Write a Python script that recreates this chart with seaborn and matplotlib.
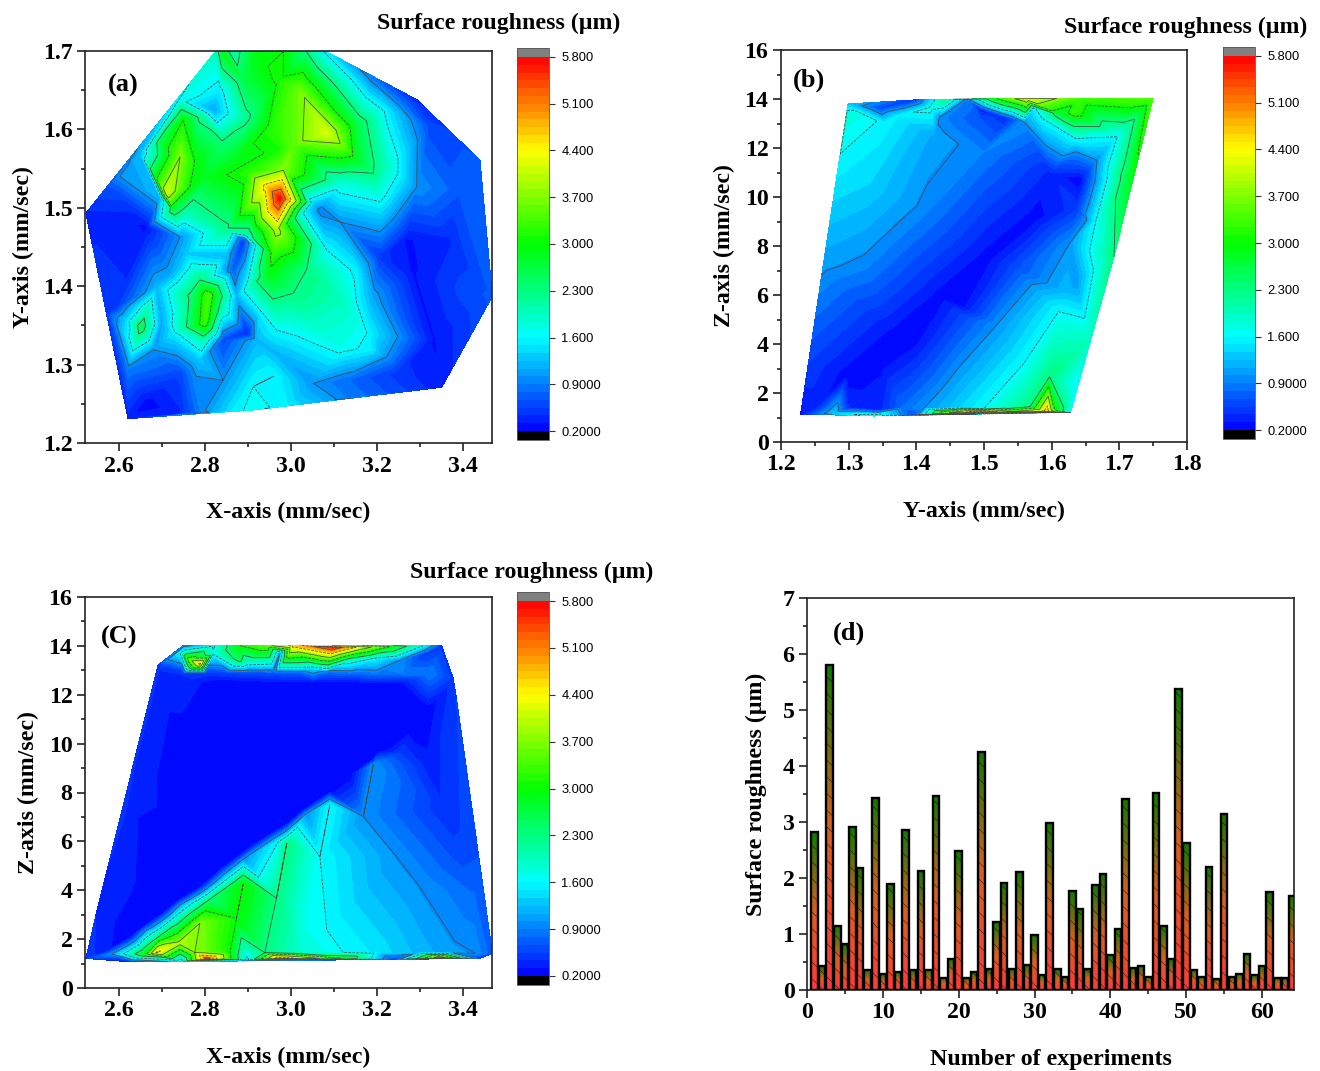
import numpy as np
import seaborn as sns
import matplotlib.pyplot as plt
import matplotlib.tri as mtri
from matplotlib.colors import LinearSegmentedColormap
from matplotlib.ticker import MultipleLocator, FormatStrFormatter

# panel (a): X speed, Y speed, roughness
a_x = [2.823, 2.842, 2.862, 2.920, 2.982, 3.036, 3.083, 3.191, 3.292, 3.439, 3.468, 3.350, 3.129, 2.990, 2.912, 2.866, 2.742, 2.621, 2.571, 2.523, 2.579, 2.649, 2.742,
       2.819, 2.835, 2.788, 2.842, 2.897, 2.889, 2.749, 2.711, 2.742, 2.695, 2.602, 2.776, 2.800, 2.866, 2.974, 2.959, 3.021, 3.083, 3.005, 3.114, 3.152, 3.183, 3.222, 3.152, 3.191, 3.226, 3.257, 3.292, 3.207, 3.114, 3.052,
       2.974, 2.982, 2.974, 2.943, 2.966, 2.997, 3.013, 3.028, 2.900, 2.959, 2.951, 3.036, 3.005, 2.959, 2.920, 2.897, 2.850, 2.765, 2.726, 2.757, 2.742, 2.695, 2.850, 2.889, 2.866, 2.897, 2.664,
       2.807, 2.800, 2.773, 2.788, 2.757, 2.796, 2.838, 2.773, 2.718, 2.726, 2.788, 2.873, 2.757, 2.842, 2.897,
       2.652, 2.668, 2.637, 2.618, 2.687, 2.699, 2.621, 2.680, 2.594,
       2.742, 2.780, 2.664, 2.788, 2.842, 2.920, 2.966, 2.928, 2.966, 2.990, 3.121, 2.912, 2.959, 3.052, 3.129, 3.176, 3.187, 3.222,
       3.083, 3.152, 3.191, 3.114, 3.067, 3.207, 3.284, 3.331, 3.245, 3.362, 3.269, 3.400, 3.323, 3.393, 3.052, 3.129]
a_y = [1.699, 1.699, 1.699, 1.699, 1.699, 1.699, 1.699, 1.667, 1.638, 1.561, 1.387, 1.271, 1.257, 1.248, 1.242, 1.241, 1.237, 1.231, 1.365, 1.493, 1.531, 1.569, 1.637,
       1.625, 1.650, 1.616, 1.582, 1.614, 1.663, 1.612, 1.518, 1.565, 1.586, 1.540, 1.559, 1.540, 1.561, 1.663, 1.603, 1.650, 1.595, 1.582, 1.582, 1.608, 1.612, 1.625, 1.561, 1.544, 1.552, 1.631, 1.527, 1.514, 1.531, 1.506,
       1.574, 1.548, 1.512, 1.527, 1.472, 1.510, 1.497, 1.493, 1.544, 1.442, 1.416, 1.421, 1.391, 1.378, 1.406, 1.467, 1.472, 1.527, 1.497, 1.493, 1.463, 1.514, 1.438, 1.459, 1.421, 1.408, 1.476,
       1.387, 1.353, 1.387, 1.408, 1.348, 1.331, 1.374, 1.425, 1.416, 1.340, 1.306, 1.387, 1.442, 1.331, 1.340,
       1.348, 1.374, 1.327, 1.357, 1.399, 1.353, 1.295, 1.319, 1.374,
       1.289, 1.285, 1.251, 1.242, 1.280, 1.331, 1.314, 1.365, 1.344, 1.348, 1.321, 1.272, 1.285, 1.353, 1.374, 1.340, 1.319, 1.310,
       1.446, 1.421, 1.387, 1.482, 1.497, 1.438, 1.416, 1.331, 1.289, 1.459, 1.459, 1.395, 1.603, 1.523, 1.276, 1.280]
a_z = [1.9, 2.9, 2.0, 2.9, 3.0, 2.3, 1.5, 0.8, 0.4, 0.7, 0.7, 0.35, 0.9, 1.5, 1.7, 1.5, 0.4, 0.35, 0.5, 0.4, 0.7, 1.2, 1.7,
       1.1, 1.5, 2.2, 2.4, 2.2, 2.6, 3.0, 4.1, 3.7, 2.5, 1.0, 3.0, 2.8, 2.8, 3.1, 3.2, 3.6, 4.2, 3.5, 3.7, 2.6, 2.2, 1.5, 2.8, 2.3, 1.9, 0.9, 1.0, 1.7, 1.8, 1.3,
       3.1, 3.7, 5.8, 4.6, 3.9, 4.6, 2.6, 1.6, 3.2, 3.2, 2.9, 2.3, 2.3, 2.2, 2.3, 2.0, 2.2, 3.0, 2.6, 2.0, 1.0, 1.2, 1.2, 0.5, 0.7, 1.5, 0.3,
       3.4, 3.3, 2.5, 2.3, 2.3, 2.0, 2.1, 1.7, 1.1, 1.5, 1.3, 1.2, 1.3, 0.6, 0.4,
       2.6, 1.9, 1.9, 1.4, 1.2, 1.1, 0.9, 1.0, 0.5,
       0.6, 1.0, 0.25, 0.9, 1.0, 1.2, 1.2, 1.5, 1.6, 1.7, 1.7, 1.6, 1.6, 1.9, 1.9, 1.6, 1.5, 1.0,
       1.6, 1.5, 1.1, 1.0, 0.9, 0.5, 0.3, 0.3, 0.5, 0.4, 0.3, 0.6, 0.6, 0.7, 1.0, 0.8]

# panel (b): Y speed, Z speed, roughness
b_x = [1.229, 1.278, 1.337, 1.396, 1.445, 1.495, 1.544, 1.593, 1.628, 1.692, 1.716, 1.750, 1.299, 1.297,
       1.312, 1.352, 1.500, 1.598, 1.642, 1.534, 1.435, 1.640, 1.559, 1.636, 1.586, 1.635, 1.613, 1.633, 1.633, 1.721, 1.726, 1.697, 1.667, 1.636, 1.633, 1.637,
       1.625, 1.610, 1.597, 1.568, 1.500, 1.411, 1.603, 1.347,
       1.396, 1.445, 1.475, 1.519, 1.564, 1.642, 1.347, 1.421, 1.495, 1.573,
       1.298, 1.367, 1.435, 1.504, 1.573, 1.241, 1.262, 1.283, 1.381, 1.322, 1.411, 1.426, 1.332,
       1.519, 1.470, 1.544, 1.559, 1.665, 1.652, 1.623, 1.656, 1.371, 1.495,
       1.250, 1.300, 1.380, 1.455, 1.534, 1.620,
       1.350, 1.400, 1.470]
b_y = [1.14, 1.17, 1.06, 1.10, 1.20, 1.24, 1.24, 1.24, 1.21, 7.56, 10.69, 14.03, 13.80, 13.35,
       13.41, 13.01, 11.85, 10.97, 10.69, 13.21, 13.25, 11.24, 13.07, 11.85, 13.21, 12.39, 13.35, 12.94, 13.48, 13.89, 13.28, 12.46, 11.51, 6.54, 2.26, 9.61,
       8.04, 5.32, 2.67, 1.44, 1.37, 1.37, 1.33, 1.31,
       13.96, 13.99, 13.99, 14.01, 14.01, 14.03, 13.62, 13.62, 13.55, 13.62,
       2.73, 4.33, 5.92, 7.51, 9.10, 3.29, 7.15, 10.96, 8.79, 7.25, 9.54, 12.46, 10.42,
       4.78, 5.12, 7.16, 3.21, 8.99, 9.06, 6.07, 4.16, 13.31, 13.25,
       1.40, 1.40, 1.40, 1.40, 1.40, 1.40,
       3.00, 4.00, 5.50]
b_z = [0.3, 1.3, 1.9, 0.6, 3.6, 5.0, 3.8, 4.8, 1.6, 2.3, 2.8, 3.4, 1.3, 1.8,
       1.75, 1.55, 0.9, 0.4, 0.22, 0.45, 0.95, 0.6, 1.0, 1.0, 1.6, 1.6, 2.6, 2.4, 3.3, 3.3, 2.4, 1.6, 1.0, 1.0, 1.6, 0.5,
       1.0, 1.6, 2.3, 2.3, 1.6, 1.0, 3.1, 0.4,
       0.5, 2.2, 0.9, 3.0, 4.2, 3.3, 0.6, 1.7, 0.35, 1.5,
       0.25, 0.25, 0.25, 0.25, 0.25, 0.55, 1.04, 1.5, 0.95, 0.95, 0.95, 1.1, 1.35,
       1.0, 0.6, 0.6, 1.6, 1.6, 1.0, 1.25, 1.95, 1.5, 0.65,
       0.35, 0.42, 0.8, 1.3, 1.95, 2.2,
       0.3, 0.3, 0.3]

# panel (C): X speed, Z speed, roughness
c_x = [2.523, 2.618, 2.742, 2.804, 2.897, 2.974, 3.129, 3.238, 3.346, 3.439, 3.468, 3.385, 3.377, 3.350, 3.307, 3.230, 3.168, 3.098, 3.005, 2.943, 2.881, 2.819, 2.749, 2.691,
       2.742, 2.819, 2.974, 3.191, 3.253, 3.315, 2.765, 2.881, 2.990, 3.129, 2.788, 2.897, 3.052, 3.323, 2.695, 2.842, 3.315, 3.346, 2.567, 2.610, 2.742, 2.897, 2.897, 3.207, 3.273, 2.664,
       2.687, 2.776, 2.858, 2.939, 3.121, 3.428, 2.788, 2.889, 2.990, 3.090, 3.191, 3.044, 3.168, 3.253,
       2.583, 2.610, 2.637, 2.664, 3.090, 2.788, 2.990, 3.191, 3.319, 3.354, 3.389, 3.424, 3.435, 3.245,
       2.800, 3.020, 3.200, 3.300, 3.370,
       2.750, 2.800, 2.850, 2.900, 2.960, 3.020, 3.080, 3.140, 3.200, 3.260,
       2.950, 3.050, 3.150, 3.250, 2.750,
       3.296, 3.083, 3.067, 2.966, 2.873, 2.850, 2.813, 2.776, 2.889, 2.742, 3.036, 2.730, 2.970,
       2.625, 2.703, 2.742, 2.835, 2.889, 2.943, 3.036, 3.137, 3.230, 2.742, 2.664, 2.641, 2.551,
       2.695, 2.718, 2.742, 2.664]
c_y = [1.21, 1.08, 1.08, 1.20, 1.17, 1.21, 1.22, 1.17, 1.25, 1.21, 1.42, 11.79, 12.67, 14.01, 14.01, 13.97, 13.94, 13.94, 14.01, 14.01, 14.01, 14.01, 14.01, 13.22,
       13.70, 13.70, 13.70, 13.49, 13.42, 13.70, 13.42, 13.42, 13.49, 13.36, 13.26, 13.22, 13.08, 12.88, 12.88, 12.54, 11.38, 11.92, 1.49, 7.42, 7.42, 9.47, 5.72, 9.74, 10.42, 2.65,
       1.45, 1.45, 1.45, 1.45, 1.45, 1.42, 2.65, 4.28, 5.92, 7.49, 9.13, 3.19, 7.01, 9.60,
       1.39, 1.39, 1.39, 1.39, 8.04, 4.15, 6.74, 9.40, 9.20, 7.42, 5.51, 3.74, 5.51, 5.37,
       1.45, 1.45, 1.45, 1.45, 1.45,
       12.88, 12.88, 12.88, 12.88, 12.88, 12.88, 12.88, 12.88, 12.88, 12.88,
       12.47, 12.47, 12.47, 12.47, 12.47,
       4.22, 2.37, 5.37, 3.67, 2.85, 4.45, 3.66, 2.84, 5.27, 3.40, 7.15, 2.92, 5.98,
       2.10, 3.12, 3.67, 4.90, 5.58, 6.26, 7.42, 8.72, 9.95, 9.47, 6.74, 4.01, 3.33,
       2.14, 2.09, 1.83, 2.37]
c_z = [0.5, 0.3, 1.2, 5.4, 1.5, 5.0, 2.8, 0.5, 4.2, 0.5, 0.7, 0.55, 0.5, 0.5, 1.6, 3.0, 4.0, 5.6, 4.6, 3.5, 3.0, 1.5, 0.8, 0.5,
       1.6, 1.7, 1.0, 1.6, 1.0, 0.5, 3.5, 2.5, 3.0, 1.8, 4.6, 1.6, 1.4, 0.9, 0.4, 0.24, 0.22, 0.35, 0.35, 0.45, 0.22, 0.22, 0.22, 0.22, 0.3, 0.25,
       4.5, 3.7, 3.0, 2.3, 1.6, 1.0, 3.7, 3.0, 2.3, 1.6, 1.0, 1.6, 1.0, 0.55,
       1.0, 1.6, 2.3, 3.0, 0.25, 0.25, 0.25, 0.25, 0.35, 0.45, 0.6, 0.8, 0.65, 1.0,
       3.6, 1.85, 1.45, 1.2, 1.05,
       0.45, 0.5, 0.55, 0.6, 0.65, 0.7, 0.75, 0.8, 0.85, 0.9,
       0.24, 0.24, 0.24, 0.24, 0.38,
       1.0, 1.6, 1.6, 2.3, 3.0, 1.6, 2.3, 3.0, 1.0, 1.0, 1.0, 1.6, 1.6,
       0.22, 0.22, 0.22, 0.22, 0.22, 0.22, 0.22, 0.22, 0.22, 0.22, 0.24, 0.3, 0.42,
       2.3, 3.0, 3.9, 1.0]

# panel (d)
experiments = list(range(1, 65))
roughness = [2.82, 0.42, 5.80, 1.15, 0.82, 2.91, 2.18, 0.35, 3.43, 0.28, 1.90, 0.33, 2.86, 0.35, 2.12, 0.36,
             3.46, 0.22, 0.56, 2.49, 0.22, 0.32, 4.25, 0.38, 1.22, 1.91, 0.38, 2.10, 0.44, 0.98, 0.27, 2.98,
             0.37, 0.24, 1.77, 1.44, 0.38, 1.88, 2.07, 0.62, 1.09, 3.41, 0.40, 0.43, 0.24, 3.51, 1.15, 0.55,
             5.37, 2.62, 0.36, 0.24, 2.19, 0.20, 3.15, 0.24, 0.29, 0.64, 0.26, 0.43, 1.75, 0.22, 0.21, 1.68]

cbar_ticks = [0.2, 0.9, 1.6, 2.3, 3.0, 3.7, 4.4, 5.1, 5.8]
cbar_labels = ["0.2000", "0.9000", "1.600", "2.300", "3.000", "3.700", "4.400", "5.100", "5.800"]
line_levels = [1.0, 1.6, 2.3, 3.0, 3.7, 4.4, 5.1]

W, H = 1320, 1071
sns.set_theme(style="ticks")
plt.rcParams["font.family"] = ["Liberation Serif", "DejaVu Serif"]
plt.rcParams["font.weight"] = "bold"
plt.rcParams["axes.labelweight"] = "bold"
plt.rcParams["text.color"] = "black"
plt.rcParams["axes.labelcolor"] = "black"
plt.rcParams["xtick.labelcolor"] = "black"
plt.rcParams["ytick.labelcolor"] = "black"
plt.rcParams["hatch.linewidth"] = 0.3

rainbow = LinearSegmentedColormap.from_list("rainbow5", ["#0000ff", "#00ffff", "#00ff00", "#ffff00", "#ff0000"], N=256)
rainbow.set_under("black")
rainbow.set_over("#808080")
levels = np.linspace(0.2, 5.8, 49)
bar_grad = LinearSegmentedColormap.from_list("bar", ["#ff3a3a", "#d8601f", "#0f7a00"])


def make_axes(left, top, right, bottom):
    return fig.add_axes([left / W, 1 - bottom / H, (right - left) / W, (bottom - top) / H])


def style_axes(ax, xmaj, xmin, ymaj, ymin):
    ax.xaxis.set_major_locator(MultipleLocator(xmaj))
    ax.xaxis.set_minor_locator(MultipleLocator(xmin))
    ax.yaxis.set_major_locator(MultipleLocator(ymaj))
    ax.yaxis.set_minor_locator(MultipleLocator(ymin))
    ax.tick_params(which="major", direction="out", length=6, width=1.2, labelsize=17.2, pad=3, color="#222222")
    ax.tick_params(which="minor", direction="out", length=3.2, width=1.2, color="#222222")
    for s in ax.spines.values():
        s.set_visible(True)
        s.set_linewidth(1.2)
        s.set_color("#222222")


def contour_panel(box, cbox, x, y, z, xlim, ylim):
    ax = make_axes(*box)
    # triangulate in axes-scaled units, x and y have very different ranges
    x = np.array(x)
    y = np.array(y)
    sx = (x - xlim[0]) / (xlim[1] - xlim[0]) * (box[2] - box[0])
    sy = (y - ylim[0]) / (ylim[1] - ylim[0]) * (box[3] - box[1])
    tri = mtri.Triangulation(x, y, triangles=mtri.Triangulation(sx, sy).triangles)
    cf = ax.tricontourf(tri, z, levels=levels, cmap=rainbow, extend="both")
    ax.tricontour(tri, z, levels=line_levels, colors="#4a4a4a", linewidths=0.55,
                  linestyles=["-", "--", "-", "--", "-", "--", "-"])
    ax.set_xlim(*xlim)
    ax.set_ylim(*ylim)
    cax = make_axes(*cbox)
    cb = fig.colorbar(cf, cax=cax, extend="both", extendrect=True, extendfrac=0.024, drawedges=False)
    cb.set_ticks(cbar_ticks, labels=cbar_labels)
    cb.minorticks_off()
    cb.ax.tick_params(length=4, width=0.8, pad=5, labelsize=9.3, color="#333333")
    for t in cb.ax.get_yticklabels():
        t.set_fontfamily("Liberation Sans")
        t.set_fontweight("normal")
    cb.outline.set_linewidth(0.6)
    cb.outline.set_edgecolor("#555555")
    return ax


fig = plt.figure(figsize=(W / 100, H / 100), dpi=100, facecolor="white")

# (a)
ax_a = contour_panel((85, 51, 492, 443), (517, 48, 549, 440), a_x, a_y, a_z, (2.521, 3.467), (1.2, 1.7))
style_axes(ax_a, 0.2, 0.1, 0.1, 0.05)
ax_a.xaxis.set_major_formatter(FormatStrFormatter("%.1f"))
ax_a.yaxis.set_major_formatter(FormatStrFormatter("%.1f"))
ax_a.set_xlabel("X-axis (mm/sec)", fontsize=17.2, labelpad=18)
ax_a.set_ylabel("Y-axis (mm/sec)", fontsize=17.2, labelpad=6)

# (b)
ax_b = contour_panel((781, 50, 1187, 442), (1223, 47, 1255, 439), b_x, b_y, b_z, (1.2, 1.8), (0, 16))
style_axes(ax_b, 0.1, 0.05, 2, 1)
ax_b.xaxis.set_major_formatter(FormatStrFormatter("%.1f"))
ax_b.set_xlabel("Y-axis (mm/sec)", fontsize=17.2, labelpad=18)
ax_b.set_ylabel("Z-axis (mm/sec)", fontsize=17.2, labelpad=7)

# (C)
ax_c = contour_panel((85, 597, 492, 988), (517, 592, 549, 985), c_x, c_y, c_z, (2.521, 3.467), (0, 16))
style_axes(ax_c, 0.2, 0.1, 2, 1)
ax_c.xaxis.set_major_formatter(FormatStrFormatter("%.1f"))
ax_c.set_xlabel("X-axis (mm/sec)", fontsize=17.2, labelpad=18)
ax_c.set_ylabel("Z-axis (mm/sec)", fontsize=17.2, labelpad=7)

# (d)
ax_d = make_axes(807, 598, 1294, 990)
sns.barplot(x=experiments, y=roughness, native_scale=True, width=0.86, color="white",
            edgecolor="black", linewidth=1.7, ax=ax_d)
gradient = np.linspace(0, 1, 64).reshape(-1, 1)
for bar in ax_d.patches:
    bar.set_facecolor("none")
    bar.set_hatch("\\\\")
    bar.set_zorder(3)
    ax_d.imshow(gradient, cmap=bar_grad, origin="lower", aspect="auto", zorder=2,
                extent=(bar.get_x(), bar.get_x() + bar.get_width(), 0, bar.get_height()))
ax_d.set_xlim(0, 64.2)
ax_d.set_ylim(0, 7)
style_axes(ax_d, 10, 5, 1, 0.5)
ax_d.set_xlabel("Number of experiments", fontsize=17.2, labelpad=18)
ax_d.set_ylabel("Surface roughness (µm)", fontsize=17.2, labelpad=11)

# titles and panel letters
for tx, ty in [(499, 23), (1186, 27), (532, 572)]:
    fig.text(tx / W, 1 - ty / H, "Surface roughness (µm)", fontsize=17.2, ha="center", va="center")
for tx, ty, s in [(123, 85, "(a)"), (809, 80, "(b)"), (119, 637, "(C)"), (849, 633, "(d)")]:
    fig.text(tx / W, 1 - ty / H, s, fontsize=19, ha="center", va="center")

fig.savefig("out.png", dpi=100)
